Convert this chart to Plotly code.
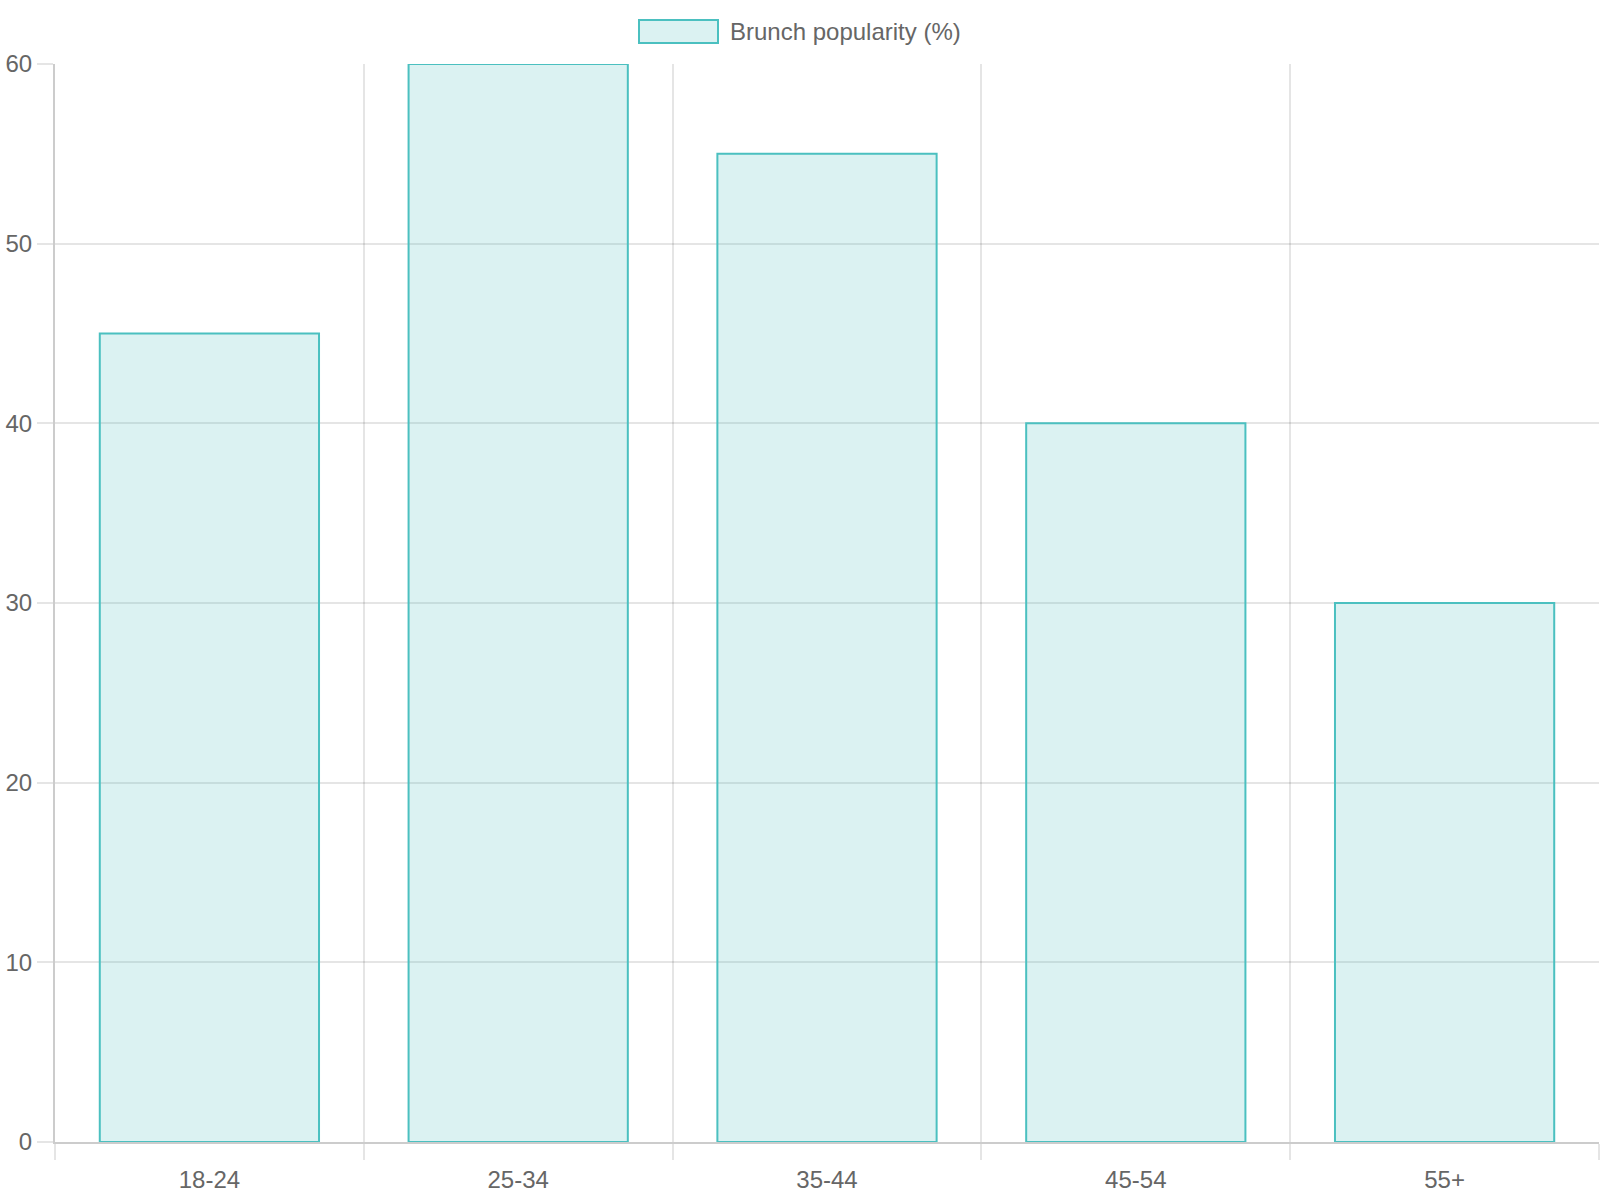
import plotly.graph_objects as go

age_groups = ["18-24", "25-34", "35-44", "45-54", "55+"]
popularity = [45, 60, 55, 40, 30]
series_name = "Brunch popularity (%)"

W, H = 1600, 1200
L, R, T, B = 55, 1, 64, 58
teal = "rgb(75, 192, 192)"
teal_fill = "rgba(75, 192, 192, 0.2)"
grid = "rgba(0, 0, 0, 0.1)"
font = dict(family="Liberation Sans, Arial, sans-serif", size=24, color="#666666")


def px_x(v):
    return (v - L) / (W - L - R)


def px_y(v):
    return (H - B - v) / (H - T - B)


fig = go.Figure()
fig.add_trace(go.Bar(
    x=age_groups, y=popularity, name=series_name,
    marker=dict(color=teal_fill, line=dict(color=teal, width=2)),
    showlegend=False,
))

# chart.js style legend box on top
fig.add_shape(type="rect", xref="paper", yref="paper",
              x0=px_x(639), x1=px_x(718), y0=px_y(43), y1=px_y(20),
              fillcolor=teal_fill, line=dict(color=teal, width=2))
fig.add_annotation(xref="paper", yref="paper", x=px_x(728), y=px_y(31.5),
                   text=series_name, showarrow=False, xanchor="left",
                   yanchor="middle", font=font)

fig.update_layout(
    width=W, height=H,
    margin=dict(l=L, r=R, t=T, b=B, autoexpand=False),
    paper_bgcolor="white", plot_bgcolor="white",
    bargap=0.29, font=font,
    xaxis=dict(type="category", tickson="boundaries", showgrid=True,
               gridcolor=grid, gridwidth=2, ticks="outside", ticklen=16,
               tickcolor=grid, tickwidth=2, showline=True, automargin=False,
               linecolor="rgba(0,0,0,0.2)", linewidth=2, tickfont=font,
               ticklabelstandoff=15),
    yaxis=dict(range=[0, 60], dtick=10, showgrid=True, gridcolor=grid,
               gridwidth=2, zeroline=False, ticks="outside", ticklen=16,
               tickcolor=grid, tickwidth=2, showline=True, automargin=False,
               linecolor="rgba(0,0,0,0.2)", linewidth=2, tickfont=font,
               ticklabelstandoff=0),
)

# drop the default body margin so the figure fills the window from 0,0
fig.write_html("out.html", config={"displayModeBar": False},
               post_script="document.body.style.margin = '0';")
